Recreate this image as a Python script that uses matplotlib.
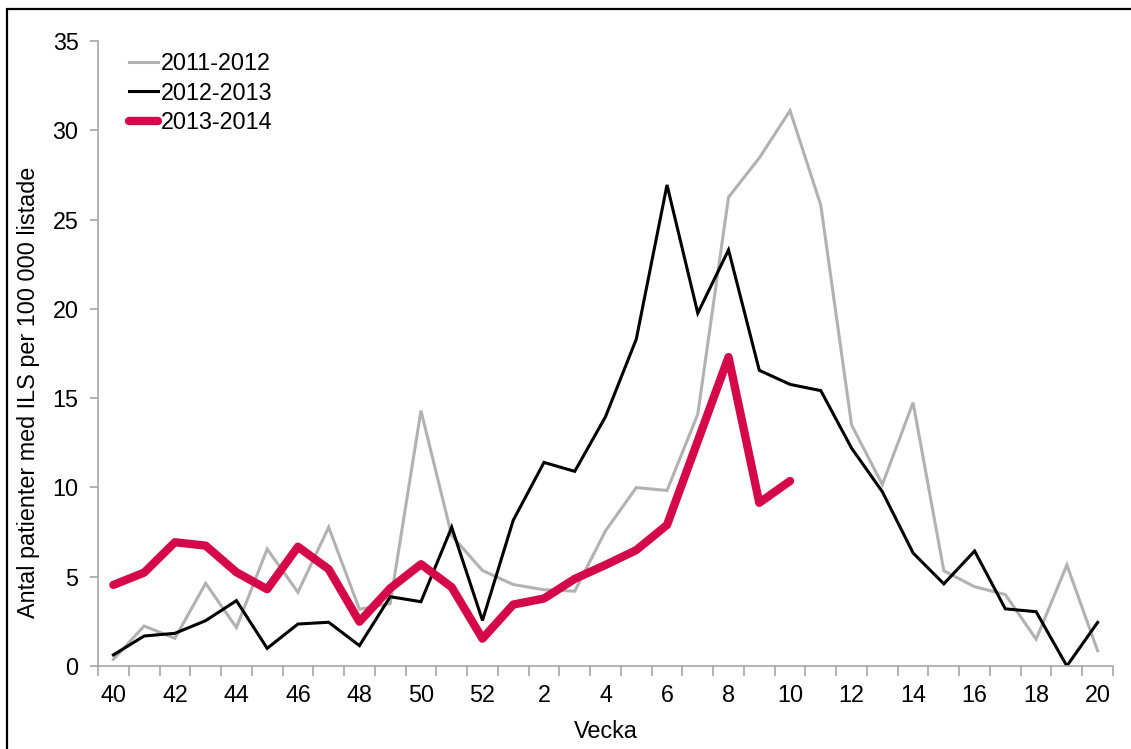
import matplotlib
matplotlib.use("Agg")
import matplotlib.pyplot as plt
from matplotlib.patches import Rectangle

weeks = [40, 41, 42, 43, 44, 45, 46, 47, 48, 49, 50, 51, 52,
         1, 2, 3, 4, 5, 6, 7, 8, 9, 10, 11, 12, 13, 14, 15, 16, 17, 18, 19, 20]

s2011 = [0.37, 2.24, 1.55, 4.63, 2.15, 6.55, 4.13, 7.77, 3.18, 3.5, 14.3, 7.3, 5.35,
         4.56, 4.27, 4.19, 7.57, 9.99, 9.83, 14.1, 26.25, 28.45, 31.1, 25.8, 13.5, 10.16,
         14.75, 5.33, 4.44, 4.0, 1.5, 5.66, 0.85]
s2012 = [0.62, 1.68, 1.83, 2.54, 3.66, 0.99, 2.35, 2.45, 1.14, 3.88, 3.6, 7.77, 2.55,
         8.16, 11.4, 10.9, 13.96, 18.3, 26.94, 19.76, 23.3, 16.56, 15.77, 15.42, 12.2, 9.76,
         6.33, 4.6, 6.44, 3.2, 3.04, 0.0, 2.44]
s2013 = [4.54, 5.23, 6.93, 6.74, 5.25, 4.30, 6.68, 5.42, 2.48, 4.35, 5.70, 4.41, 1.53,
         3.44, 3.78, 4.88, 5.66, 6.49, 7.9, 12.6, 17.3, 9.14, 10.36]

labels = ["2011-2012", "2012-2013", "2013-2014"]

plt.rcParams['font.family'] = ['Liberation Sans', 'DejaVu Sans']
FS = 16.8

fig = plt.figure(figsize=(11.31, 7.49), dpi=100)
ax = fig.add_axes([98/1131, 1-666/749, (1113-98)/1131, (666-41)/749])

x = list(range(len(weeks)))
ax.plot(x, s2011, color='#b2b2b2', lw=2.2, label=labels[0], solid_joinstyle='miter')
ax.plot(x, s2012, color='#000000', lw=2.2, label=labels[1], solid_joinstyle='miter')
ax.plot(x[:len(s2013)], s2013, color='#d4084a', lw=6, label=labels[2],
        solid_capstyle='round', solid_joinstyle='round')

ax.set_xlim(-0.5, len(weeks) - 0.5)
ax.set_ylim(0, 35)
ax.set_yticks(range(0, 36, 5))
ax.set_xticks([i for i, w in enumerate(weeks) if w % 2 == 0])
ax.set_xticklabels([str(w) for w in weeks if w % 2 == 0])
ax.set_xticks([i - 0.5 for i in range(len(weeks) + 1)], minor=True)

for s in ['top', 'right']:
    ax.spines[s].set_visible(False)
for s in ['left', 'bottom']:
    ax.spines[s].set_color('#a6a6a6')
    ax.spines[s].set_linewidth(1.2)

ax.tick_params(axis='y', direction='out', length=6, width=1.2, color='#a6a6a6',
               labelsize=FS, pad=8)
ax.tick_params(axis='x', which='major', length=0, labelsize=FS, pad=13)
ax.tick_params(axis='x', which='minor', direction='out', length=7, width=1.2, color='#a6a6a6')

ax.set_xlabel('Vecka', fontsize=FS, labelpad=9)
ax.set_ylabel('Antal patienter med ILS per 100 000 listade', fontsize=FS, labelpad=9, y=0.438)

leg = ax.legend(loc='upper left', bbox_to_anchor=(0.010, 1.016), frameon=False,
                fontsize=FS, handlelength=1.25, handletextpad=0.12, labelspacing=0.28)

fig.patches.append(Rectangle((7/1131, -0.01), 1.1, 1 - 9/749 + 0.01, transform=fig.transFigure,
                             fill=False, edgecolor='black', lw=1.6))

fig.savefig('out.png', dpi=100)
